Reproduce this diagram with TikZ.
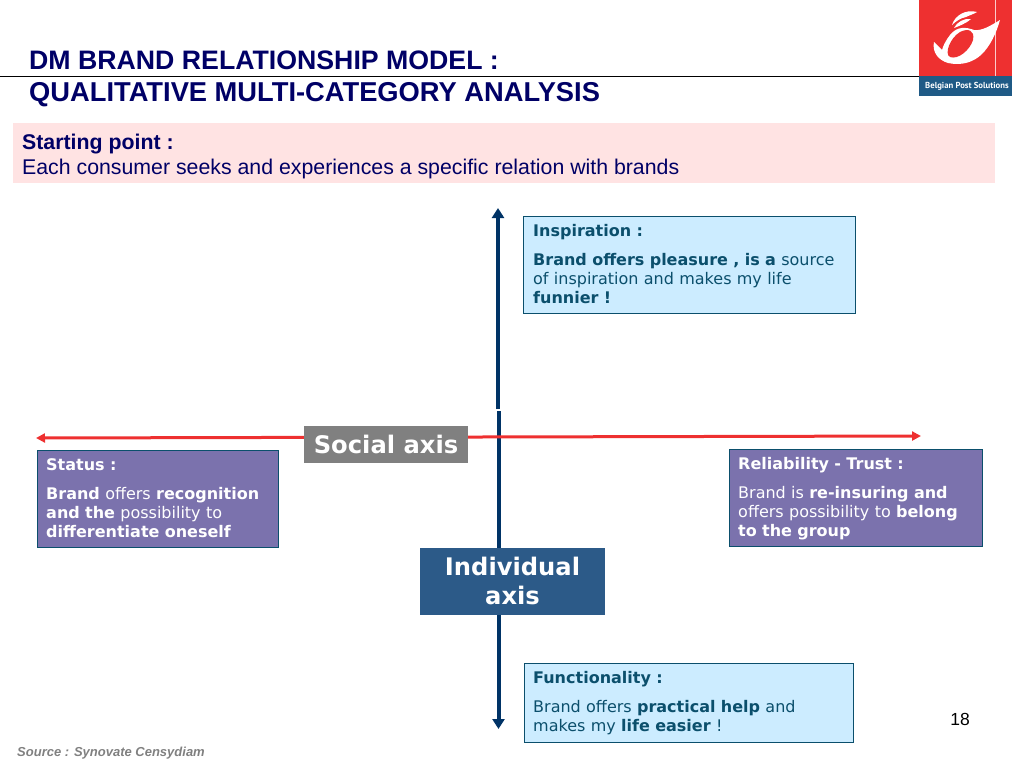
\documentclass[tikz,border=0pt]{standalone}
\usepackage{fontspec}
\setmainfont{Liberation Sans}
\newfontfamily\vfont{DejaVu Sans}
\newfontfamily\logofont{PT Sans}
\usetikzlibrary{arrows.meta}
\definecolor{navy}{HTML}{003366}
\definecolor{postred}{HTML}{EE3030}
\definecolor{lightblue}{HTML}{CCECFF}
\definecolor{violetbox}{HTML}{7B72AD}
\definecolor{steel}{HTML}{2C5A88}
\definecolor{greybox}{HTML}{808080}
\definecolor{pinkbar}{HTML}{FFE3E3}
\definecolor{titleblue}{HTML}{000066}
\definecolor{logoblue}{HTML}{1F5A86}
\definecolor{tealtext}{HTML}{0B4F6C}
\tikzset{
 x=1pt,y=-1pt,
 infotext/.style={font=\vfont\fontsize{16}{19}\selectfont,align=left,anchor=north west,inner sep=0pt,text width=#1},
 infobox/.style={draw=tealtext,line width=0.8pt,anchor=north west,inner sep=0pt},
 axislabel/.style={font=\vfont\bfseries\fontsize{24.2}{29}\selectfont,text=white,align=center,inner sep=0pt},
 navyaxis/.style={draw=navy,line width=4pt,-{Triangle[length=10pt,width=12pt]}},
 redaxis/.style={draw=postred,line width=3pt,{Triangle[length=9pt,width=9pt]}-{Triangle[length=9pt,width=9pt]}},
}
\begin{document}
\begin{tikzpicture}
\useasboundingbox (0,0) rectangle (1012,772);
% logo
\fill[postred] (919,0) rectangle (1012,76);
\fill[logoblue] (919,76) rectangle (1012,96);
\draw[white!75!postred,line width=0.8pt] (995,0) -- (995,76);
\node[font=\logofont\bfseries\fontsize{8.7}{12}\selectfont,text=white,inner sep=0pt] (logotext) at (967,86) {Belgian Post Solutions};
\fill[white] (977,12) .. controls (966,9) and (955,15) .. (952,25) .. controls (956,21) and (961,18) .. (966,17) .. controls (970,15) and (974,14) .. (977,12) -- cycle;
\fill[white] (971,19) .. controls (964,18) and (957,22) .. (954,28) .. controls (959,26) and (965,24) .. (971,19) -- cycle;
\fill[white] (1000,20) .. controls (990,26) and (982,31) .. (974,30) .. controls (966,27) and (957,26) .. (950,35) .. controls (946,40) and (943,46) .. (942,50) -- (934,42) .. controls (932,52) and (938,60) .. (948,63) .. controls (962,66) and (974,62) .. (982,54) .. controls (990,46) and (996,34) .. (1000,20) -- cycle;
\fill[postred] (960,32) .. controls (968,28) and (975,30) .. (973,40) .. controls (970,50) and (958,60) .. (950,57) .. controls (944,54) and (950,38) .. (960,32) -- cycle;
% title
\draw[black,line width=1pt] (0,76) coordinate (rulestart) -- (919,76) coordinate (ruleend);
\node[font=\bfseries\fontsize{27.3}{31.5}\selectfont,text=titleblue,align=left,anchor=north west,inner sep=0pt] (title) at (29,51) {{\fontsize{26.7}{31.5}\selectfont DM BRAND RELATIONSHIP MODEL :}\\QUALITATIVE MULTI-CATEGORY ANALYSIS};
% starting point
\fill[pinkbar] (13,123) rectangle (995,183);
\node[font=\fontsize{21.3}{25}\selectfont,text=titleblue,align=left,anchor=north west,inner sep=0pt] (start) at (22,133.5) {\textbf{Starting point :}\\Each consumer seeks and experiences a specific relation with brands};
% axes
\coordinate (vtop) at (498,208);
\coordinate (vgapa) at (498,409);
\coordinate (vgapb) at (498.5,411);
\coordinate (vbot) at (498.5,729);
\coordinate (hleft) at (36,438);
\coordinate (hright) at (921,436);
\draw[navyaxis] (vgapa) -- (vtop);
\draw[navyaxis] (vgapb) -- (vbot);
\draw[redaxis] (hleft) -- (hright);
% axis labels
\node[fill=greybox,axislabel,minimum width=164pt,minimum height=37pt] (social) at (386,444.5) {Social axis};
\node[fill=steel,axislabel,minimum width=185pt,minimum height=67pt] (indiv) at (512.5,581) {Individual\\axis};
% info boxes
\node[infobox,fill=lightblue,minimum width=332pt,minimum height=97pt] (insp) at (523,216) {};
\node[infotext=320pt,text=tealtext] (insptext) at (533,224) {\textbf{Inspiration :}\\[10pt]\textbf{Brand offers pleasure , is a} source\\of inspiration and makes my life\\\textbf{funnier !}};
\node[infobox,fill=violetbox,minimum width=241pt,minimum height=96.5pt] (status) at (37,450) {};
\node[infotext=230pt,text=white] (statustext) at (46,458) {\textbf{Status :}\\[10pt]\textbf{Brand} offers \textbf{recognition}\\\textbf{and the} possibility to\\\textbf{differentiate oneself}};
\node[infobox,fill=violetbox,minimum width=253pt,minimum height=97pt] (rel) at (729,449) {};
\node[infotext=240pt,text=white] (reltext) at (738,457) {\textbf{Reliability - Trust :}\\[10pt]Brand is \textbf{re-insuring and}\\offers possibility to \textbf{belong}\\\textbf{to the group}};
\node[infobox,fill=lightblue,minimum width=329pt,minimum height=78.5pt] (func) at (524,663) {};
\node[infotext=315pt,text=tealtext] (functext) at (533,671) {\textbf{Functionality :}\\[10pt]Brand offers \textbf{practical help} and\\makes my \textbf{life easier} !};
% footers
\node[font=\fontsize{17.5}{19}\selectfont,text=black,inner sep=0pt] (page) at (960,719.5) {18};
\node[font=\bfseries\itshape\fontsize{13}{15}\selectfont,text=black!50,anchor=west,inner sep=0pt] (source) at (17,753.5) {Source : Synovate Censydiam};
\end{tikzpicture}
\end{document}
